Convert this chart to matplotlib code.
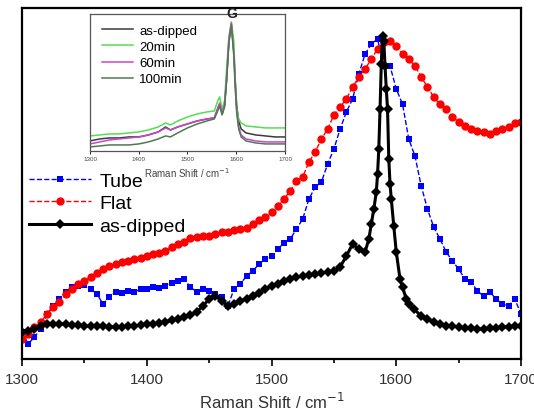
import matplotlib
matplotlib.use("Agg")
import matplotlib.pyplot as plt

plt.rcParams['font.family'] = ['Liberation Sans', 'DejaVu Sans']

# ---- main spectra (x in cm^-1, intensity in a.u.) ----
shift = list(range(1300, 1705, 5))

tube = [27, 15, 22, 30, 45, 53, 60, 67, 72, 73, 74, 70, 65, 55, 62, 67, 66, 68, 67, 70,
        70, 72, 71, 73, 76, 78, 80, 72, 67, 70, 68, 65, 62, 53, 70, 75, 83, 88, 95, 100,
        103, 110, 116, 120, 130, 140, 160, 172, 177, 195, 210, 230, 247, 260, 285, 305, 315, 320, 293, 293,
        270, 255, 220, 203, 173, 150, 132, 120, 107, 98, 90, 80, 77, 68, 63, 67, 60, 55, 53, 60,
        45]

flat = [20, 25, 32, 37, 45, 52, 57, 65, 70, 75, 78, 82, 86, 90, 93, 95, 97, 98, 100, 101,
        103, 105, 106, 108, 112, 115, 117, 121, 122, 123, 123, 125, 127, 127, 129, 130, 131, 135, 139, 142,
        147, 153, 160, 168, 178, 182, 197, 207, 220, 230, 244, 252, 260, 272, 282, 290, 300, 310, 317, 318,
        313, 305, 300, 293, 282, 272, 262, 255, 250, 242, 237, 233, 230, 228, 227, 225, 228, 230, 232, 236,
        237]

dip_x = [1300, 1305, 1310, 1315, 1320, 1325, 1330, 1335, 1340, 1345, 1350, 1355, 1360, 1365, 1370,
         1375, 1380, 1385, 1390, 1395, 1400, 1405, 1410, 1415, 1420, 1425, 1430, 1435, 1440, 1445,
         1450, 1455, 1460, 1465, 1470, 1475, 1480, 1485, 1490, 1495, 1500, 1505, 1510, 1515, 1520,
         1525, 1530, 1535, 1540, 1545, 1550, 1555, 1560, 1565, 1570, 1575, 1578, 1580, 1582, 1584,
         1585, 1586, 1587, 1588, 1589, 1590, 1591, 1592, 1593, 1594, 1595, 1596, 1598, 1600, 1603,
         1605, 1608, 1610, 1614, 1620, 1625, 1630, 1635, 1640, 1645, 1650, 1655, 1660, 1665, 1670,
         1675, 1680, 1685, 1690, 1695, 1700]
dip_y = [27, 28, 30, 33, 35, 35, 35, 35, 34, 34, 33, 33, 33, 33, 32,
         32, 32, 33, 33, 34, 35, 35, 36, 37, 39, 40, 42, 44, 47, 53,
         60, 63, 58, 53, 55, 58, 60, 63, 66, 70, 73, 75, 78, 80, 82,
         83, 84, 85, 86, 87, 88, 92, 103, 115, 110, 107, 120, 135, 150, 167,
         185, 210, 250, 295, 323, 318, 293, 270, 250, 200, 175, 160, 133, 107, 80,
         72, 60, 55, 50, 43, 40, 37, 35, 33, 33, 32, 31, 31, 30, 30,
         31, 31, 32, 32, 33, 33]

# ---- inset spectra ----
in_x = [1300, 1320, 1340, 1360, 1380, 1400, 1420, 1440, 1455, 1465, 1480, 1500, 1520, 1540, 1555,
        1562, 1566, 1571, 1576, 1580, 1585, 1590, 1595, 1598, 1601, 1605, 1610, 1620, 1640, 1660,
        1680, 1700]
in_asdip = [10, 12, 13, 13, 14, 14, 16, 19, 24, 21, 24, 27, 30, 32, 33,
            42, 47, 37, 45, 70, 110, 127, 100, 70, 45, 30, 22, 18, 16, 15,
            14, 14]
in_20 = [15, 16, 17, 17, 18, 19, 21, 24, 28, 26, 30, 34, 37, 39, 40,
         50, 54, 42, 50, 80, 115, 129, 110, 70, 42, 32, 28, 25, 24, 23,
         23, 23]
in_60 = [7, 9, 11, 12, 13, 14, 16, 19, 23, 21, 24, 27, 30, 32, 33,
         43, 48, 38, 46, 72, 112, 128, 98, 66, 40, 24, 16, 12, 10, 9,
         9, 9]
in_100 = [4, 5, 6, 6, 6, 7, 9, 12, 15, 14, 18, 23, 27, 30, 32,
          40, 45, 36, 44, 68, 108, 126, 95, 62, 38, 22, 14, 10, 8, 7,
          7, 7]

fig = plt.figure(figsize=(5.34, 4.14), dpi=100)
ax = fig.add_axes([0.0412, 0.1304, 0.9345, 0.8479])

ax.plot(shift, tube, color='#0000ff', linestyle='--', linewidth=1.0,
        marker='s', markersize=5, markeredgewidth=0, label='Tube')
ax.plot(shift, flat, color='#ff0000', linestyle='--', linewidth=1.0,
        marker='o', markersize=6, markeredgewidth=0, label='Flat')
ax.plot(dip_x, dip_y, color='black', linestyle='-', linewidth=2.2,
        marker='D', markersize=5.5, markeredgewidth=0, label='as-dipped')

ax.set_xlim(1300, 1700)
ax.set_ylim(0, 351)
ax.set_yticks([])
ax.set_xticks([1300, 1400, 1500, 1600, 1700])
ax.set_xticks([1350, 1450, 1550, 1650], minor=True)
ax.tick_params(axis='x', which='major', length=5, width=1.2, labelsize=11,
               labelcolor='#333333', pad=4)
ax.tick_params(axis='x', which='minor', length=3, width=1.2)
for s in ax.spines.values():
    s.set_linewidth(1.6)
ax.set_xlabel('Raman Shift / cm$^{-1}$', fontsize=12, color='#333333', labelpad=4)

ax.legend(loc='upper left', bbox_to_anchor=(-0.005, 0.56), frameon=False,
          fontsize=14, handlelength=3.2, handletextpad=0.4, labelspacing=0.25,
          borderpad=0, markerscale=1.0)

# ---- inset ----
ins = fig.add_axes([0.1685, 0.633, 0.3652, 0.3309])
ins.plot(in_x, in_asdip, color='#3a3a3a', linewidth=1.1, label='as-dipped')
ins.plot(in_x, in_20, color='#55dd55', linewidth=1.1, label='20min')
ins.plot(in_x, in_60, color='#cc44cc', linewidth=1.1, label='60min')
ins.plot(in_x, in_100, color='#4f7a4f', linewidth=1.1, label='100min')
ins.set_xlim(1300, 1700)
ins.set_ylim(0, 137)
ins.set_yticks([])
ins.set_xticks([1300, 1400, 1500, 1600, 1700])
ins.tick_params(axis='x', length=2, width=0.6, labelsize=4.5, labelcolor='#444444', pad=2)
for s in ins.spines.values():
    s.set_linewidth(0.9)
    s.set_color('#555555')
ins.set_xlabel('Raman Shift / cm$^{-1}$', fontsize=7, color='#444444', labelpad=3)
ins.text(1590, 131, 'G', fontsize=10, fontweight='bold', ha='center', va='bottom',
         color='#222222')
ins.legend(loc='upper left', bbox_to_anchor=(0.03, 0.97), frameon=False,
           fontsize=9.5, handlelength=2.3, handletextpad=0.5, labelspacing=0.3,
           borderpad=0)

fig.savefig('out.png', dpi=100)
